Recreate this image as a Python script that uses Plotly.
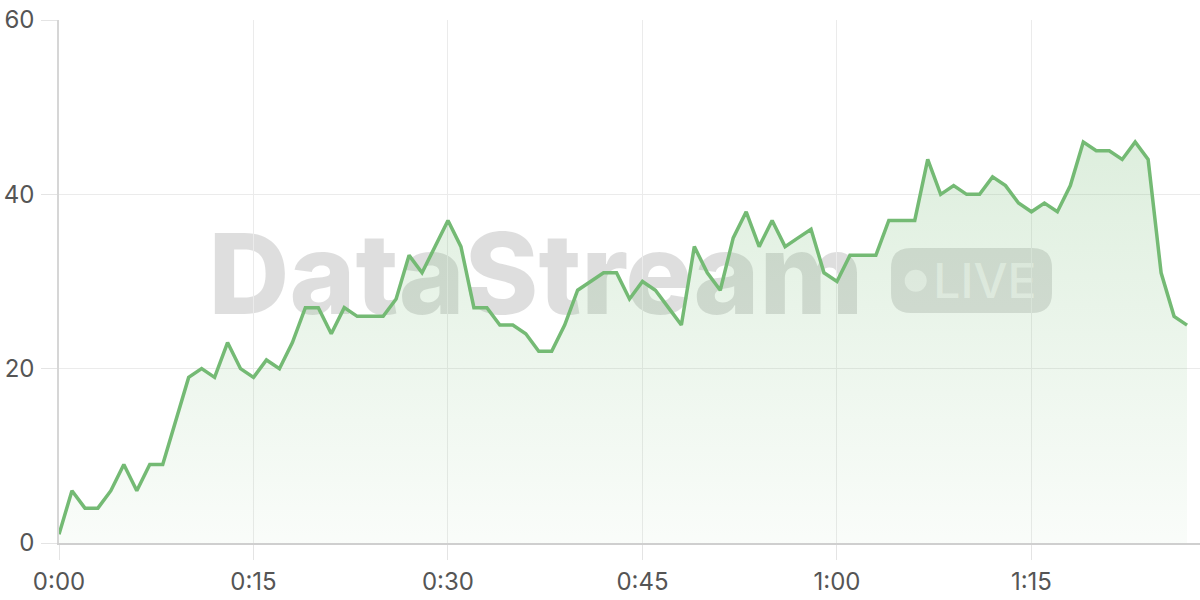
import plotly.graph_objects as go

# time index (minutes) and viewer values
minutes = list(range(88))
values = [1, 6, 4, 4, 6, 9, 6, 9, 9, 14,
          19, 20, 19, 23, 20, 19, 21, 20, 23, 27,
          27, 24, 27, 26, 26, 26, 28, 33, 31, 34,
          37, 34, 27, 27, 25, 25, 24, 22, 22, 25,
          29, 30, 31, 31, 28, 30, 29, 27, 25, 34,
          31, 29, 35, 38, 34, 37, 34, 35, 36, 31,
          30, 33, 33, 33, 37, 37, 37, 44, 40, 41,
          40, 40, 42, 41, 39, 38, 39, 38, 41, 46,
          45, 45, 44, 46, 44, 31, 26, 25]

x_tickvals = [0, 15, 30, 45, 60, 75]
x_ticktext = ["0:00", "0:15", "0:30", "0:45", "1:00", "1:15"]
y_tickvals = [0, 20, 40, 60]

GREEN = "rgb(116,186,116)"
FONT = "Inter"

fig = go.Figure()
fig.add_trace(go.Scatter(
    x=minutes, y=values, mode="lines",
    line=dict(color=GREEN, width=3.5),
    fill="tozeroy",
    fillgradient=dict(type="vertical",
                      colorscale=[[0, "rgba(116,186,116,0.04)"],
                                  [1, "rgba(116,186,116,0.24)"]],
                      start=0, stop=46),
    hoverinfo="skip",
))

# pill geometry (paper coords)
px0, px1, py0, py1 = 0.7292, 0.8703, 0.4398, 0.5641
rx, ry = 0.0175, 0.0382
pill_path = (f"M {px0+rx} {py0} L {px1-rx} {py0} Q {px1} {py0} {px1} {py0+ry} "
             f"L {px1} {py1-ry} Q {px1} {py1} {px1-rx} {py1} L {px0+rx} {py1} "
             f"Q {px0} {py1} {px0} {py1-ry} L {px0} {py0+ry} Q {px0} {py0} {px0+rx} {py0} Z")

shapes = [
    dict(type="rect", xref="paper", yref="paper", layer="between",
         x0=0.318, x1=0.518, y0=0.422, y1=0.622,
         line=dict(width=0), fillcolor="rgba(0,0,0,0)",
         label=dict(text="DataStream", textposition="middle center",
                    font=dict(family=FONT, size=112, color="rgba(0,0,0,0.13)", weight=800))),
    dict(type="path", xref="paper", yref="paper", layer="between",
         path=pill_path, line=dict(width=0), fillcolor="rgba(0,0,0,0.12)"),
    dict(type="circle", xref="paper", yref="paper", layer="between",
         x0=0.7412, x1=0.7605, y0=0.4805, y1=0.5226,
         line=dict(width=0), fillcolor="rgba(255,255,255,0.6)"),
    dict(type="rect", xref="paper", yref="paper", layer="between",
         x0=0.77, x1=0.853, y0=0.452, y1=0.556,
         line=dict(width=0), fillcolor="rgba(0,0,0,0)",
         label=dict(text="LIVE", textposition="middle center",
                    font=dict(family=FONT, size=48, color="rgba(255,255,255,0.6)", weight=500))),
]

fig.update_layout(
    width=1200, height=600,
    margin=dict(l=59, r=0, t=20, b=57, autoexpand=False),
    paper_bgcolor="white", plot_bgcolor="white",
    showlegend=False,
    shapes=shapes,
    font=dict(family=FONT, size=24, color="#555555"),
    xaxis=dict(range=[0, 88], tickvals=x_tickvals, ticktext=x_ticktext,
               showgrid=True, gridcolor="#ebebeb", gridwidth=1,
               showline=True, linecolor="#cfcfcf", linewidth=1.5,
               ticks="outside", ticklen=15, tickcolor="#e4e4e4",
               zeroline=False, ticklabelstandoff=1, automargin=False),
    yaxis=dict(range=[0, 60], tickvals=y_tickvals,
               showgrid=True, gridcolor="#ebebeb", gridwidth=1,
               showline=True, linecolor="#d6d6d6", linewidth=1.5,
               ticks="outside", ticklen=16, tickcolor="#e4e4e4",
               zeroline=False, ticklabelstandoff=2, automargin=False),
)

fig.write_html("out.html",
               config={"displayModeBar": False},
               post_script="document.body.style.margin='0px';document.body.style.overflow='hidden';")
